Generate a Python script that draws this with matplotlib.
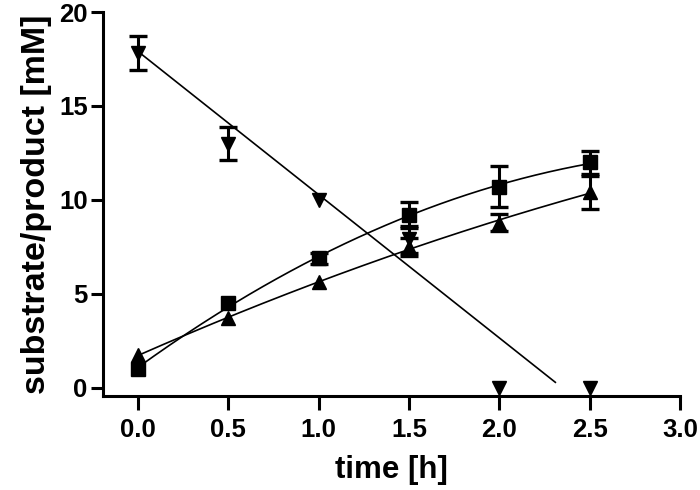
import numpy as np
import matplotlib
matplotlib.use("Agg")
import matplotlib.pyplot as plt

# ---- data ----
time_h = [0.0, 0.5, 1.0, 1.5, 2.0, 2.5]

product_sq = [1.0, 4.5, 6.9, 9.2, 10.7, 12.0]
product_sq_err = [0.0, 0.0, 0.3, 0.7, 1.1, 0.6]

product_tri = [1.75, 3.7, 5.65, 7.5, 8.8, 10.4]
product_tri_err = [0.0, 0.0, 0.0, 0.5, 0.45, 0.9]

substrate = [17.8, 13.0, 10.0, 7.9, 0.0, 0.0]
substrate_err = [0.9, 0.9, 0.0, 0.7, 0.0, 0.0]

# linear fit of substrate consumption (intercept, slope) and its end time
substrate_fit_intercept = 17.9
substrate_fit_slope = -7.62
substrate_fit_end = 2.31

xticks = [0.0, 0.5, 1.0, 1.5, 2.0, 2.5, 3.0]
xticklabels = ["0.0", "0.5", "1.0", "1.5", "2.0", "2.5", "3.0"]
yticks = [0, 5, 10, 15, 20]

plt.rcParams['font.family'] = ['Liberation Sans', 'DejaVu Sans']
plt.rcParams['font.weight'] = 'bold'

fig = plt.figure(figsize=(7, 4.9), dpi=100)
ax = fig.add_axes([103/700, 1-396/490, (680-103)/700, (396-12)/490])

t = np.array(time_h)
tt = np.linspace(0, 2.5, 200)

# fitted curves
c_sq = np.polyfit(t, product_sq, 2)
c_tri = np.polyfit(t, product_tri, 2)
ax.plot(tt, np.polyval(c_sq, tt), color='black', lw=1.2, zorder=2)
ax.plot(tt, np.polyval(c_tri, tt), color='black', lw=1.2, zorder=2)
ts = np.array([0.0, substrate_fit_end])
ax.plot(ts, substrate_fit_intercept + substrate_fit_slope * ts, color='black', lw=1.2, zorder=2)


def draw_err(x, y, e):
    x = np.array(x); y = np.array(y); e = np.array(e)
    m = e > 0
    ax.errorbar(x[m], y[m], yerr=e[m], fmt='none', ecolor='black', elinewidth=2.2,
                capsize=6.5, capthick=2.4, zorder=3)


draw_err(time_h, product_sq, product_sq_err)
draw_err(time_h, product_tri, product_tri_err)
draw_err(time_h, substrate, substrate_err)

ax.plot(time_h, product_sq, 's', color='black', ms=9.5, zorder=4)
ax.plot(time_h, product_tri, '^', color='black', ms=10, zorder=4)
ax.plot(time_h, substrate, 'v', color='black', ms=10, zorder=4)

ax.set_xlim(-0.194, 3.0)
ax.set_ylim(-0.43, 20)
ax.set_xticks(xticks)
ax.set_xticklabels(xticklabels)
ax.set_yticks(yticks)

for s in ['top', 'right']:
    ax.spines[s].set_visible(False)
for s in ['left', 'bottom']:
    ax.spines[s].set_linewidth(2.2)
ax.tick_params(axis='both', width=2.2, labelsize=18.5)
ax.tick_params(axis='x', length=10, pad=6)
ax.tick_params(axis='y', length=9, pad=2)

ax.set_xlabel('time [h]', fontsize=22.5, fontweight='bold', labelpad=9)
ax.set_ylabel('substrate/product [mM]', fontsize=24.5, fontweight='bold', labelpad=5)

fig.savefig('out.png', dpi=100)
